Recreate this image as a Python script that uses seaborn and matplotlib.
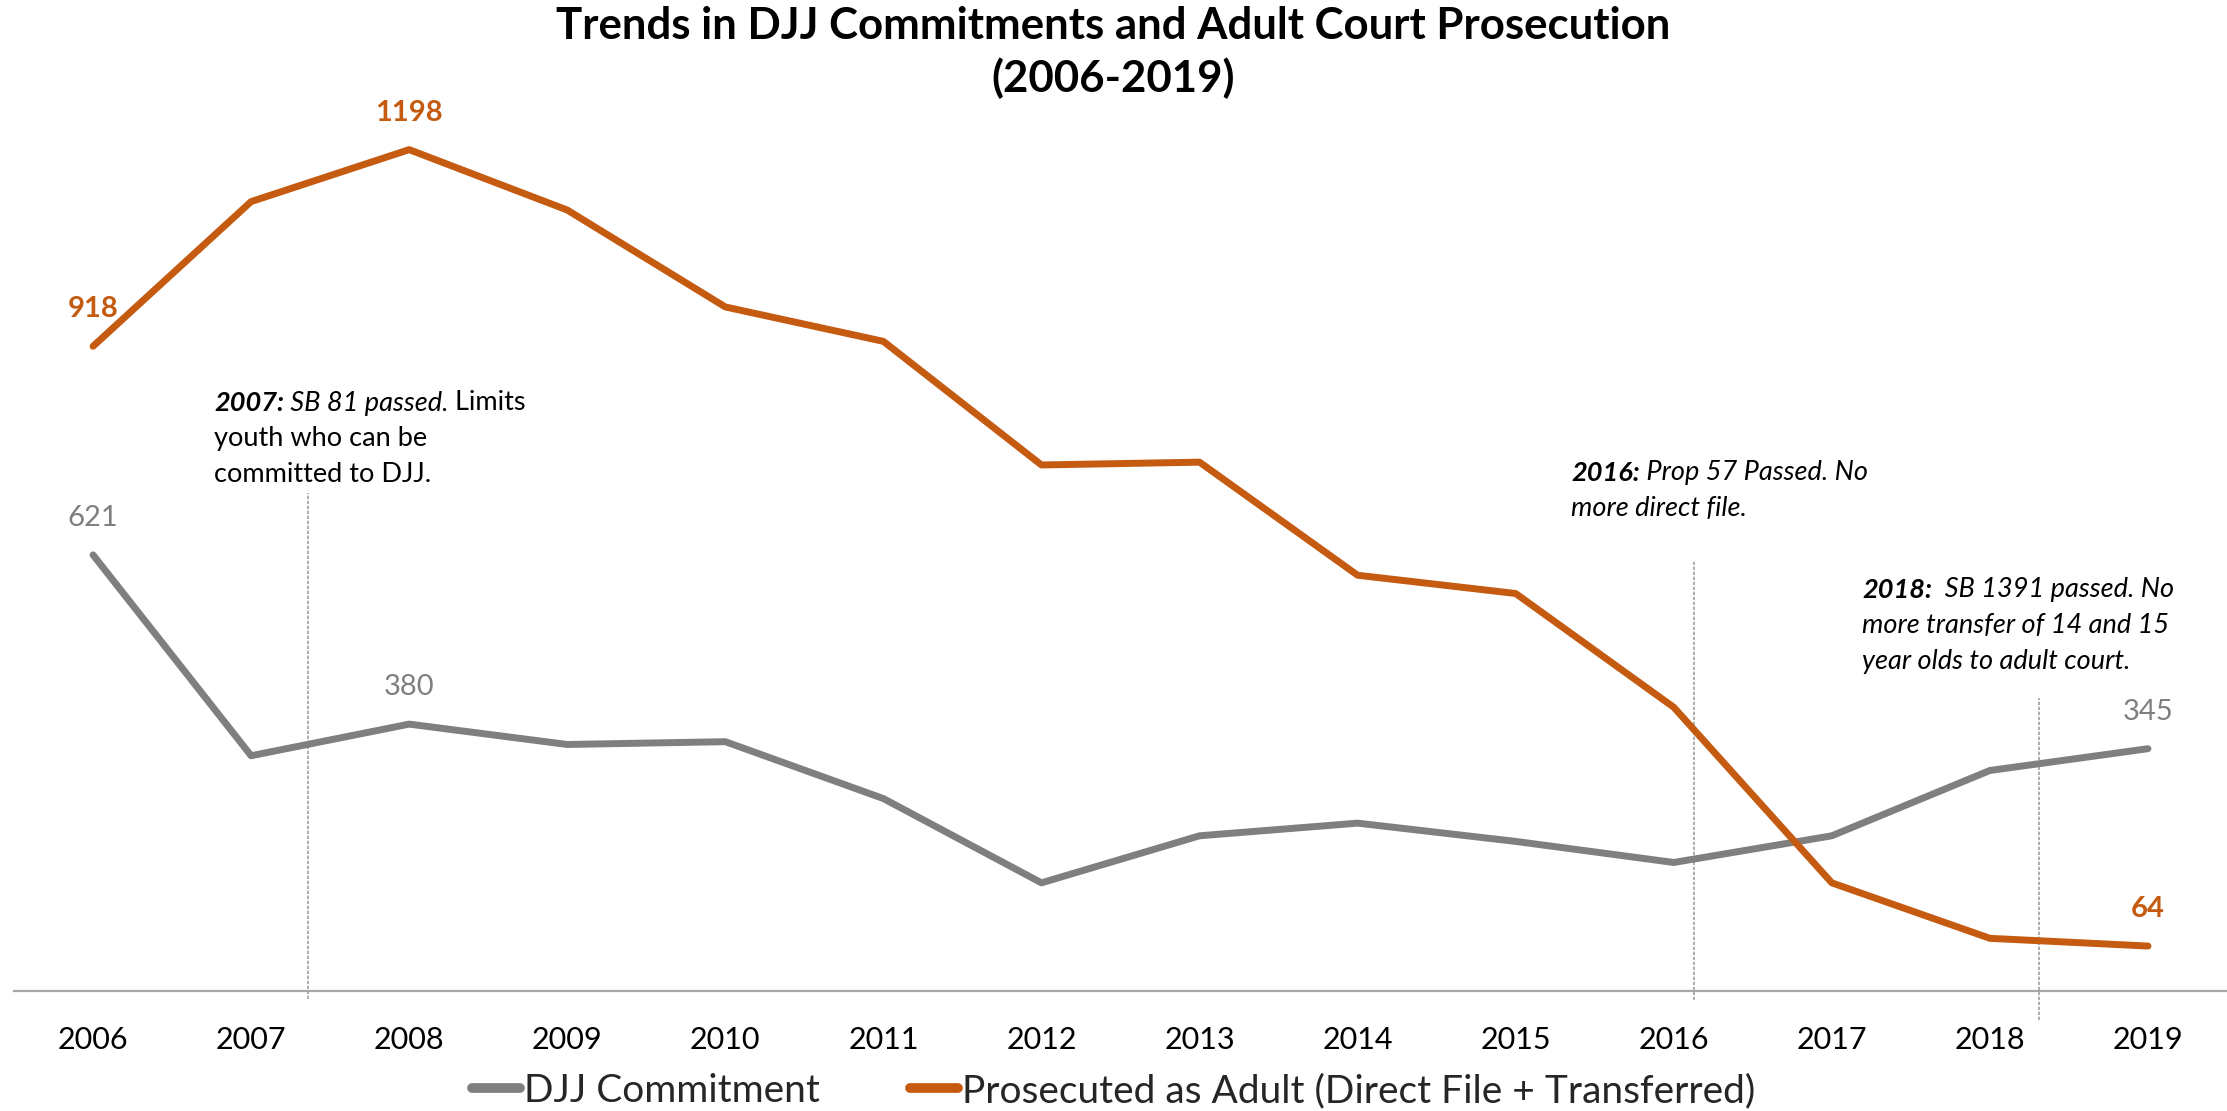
import matplotlib
matplotlib.use("Agg")
import matplotlib.pyplot as plt
import seaborn as sns
import pandas as pd
from matplotlib.lines import Line2D

# ---------------- data ----------------
years = [2006, 2007, 2008, 2009, 2010, 2011, 2012, 2013, 2014, 2015, 2016, 2017, 2018, 2019]
djj_commitment = [621, 335, 380, 351, 355, 274, 154, 221, 239, 213, 183, 221, 314, 345]
prosecuted_adult = [918, 1124, 1198, 1112, 974, 925, 749, 753, 592, 566, 404, 154, 75, 64]
series_names = ["DJJ Commitment", "Prosecuted as Adult (Direct File + Transferred)"]
labeled_years = [2006, 2008, 2019]
title_text = "Trends in DJJ Commitments and Adult Court Prosecution\n(2006-2019)"

# ---------------- styling ----------------
W, H = 2227, 1111
GREY = "#7F7F7F"
ORANGE = "#C55A11"
FONT = "Lato"

sns.set_theme(style="white")
plt.rcParams["font.family"] = [FONT, "DejaVu Sans"]

df = pd.DataFrame({
    "year": years * 2,
    "value": djj_commitment + prosecuted_adult,
    "series": [series_names[0]] * len(years) + [series_names[1]] * len(years),
})

fig = plt.figure(figsize=(W / 100, H / 100), dpi=100)
ax = fig.add_axes([14 / W, (H - 991) / H, 1 - 14 / W, 913 / H])

sns.lineplot(data=df, x="year", y="value", hue="series",
             palette={series_names[0]: GREY, series_names[1]: ORANGE},
             linewidth=5, ax=ax, legend=False, solid_capstyle="round")

ax.set_xlim(years[0] - 0.5, years[-1] + 0.5)
ax.set_ylim(0, 1300)
ax.set_xticks(years)
ax.set_xticklabels([str(y) for y in years], fontsize=22, color="black")
ax.set_yticks([])
ax.set_xlabel("")
ax.set_ylabel("")
ax.tick_params(axis="x", length=0, pad=25)
for s in ["top", "right", "left"]:
    ax.spines[s].set_visible(False)
ax.spines["bottom"].set_color("#A6A6A6")
ax.spines["bottom"].set_linewidth(1.6)

# data labels
for y, v in zip(years, djj_commitment):
    if y in labeled_years:
        ax.annotate(str(v), (y, v), xytext=(0, 26.5), textcoords="offset points",
                    ha="center", va="center", fontsize=21, color=GREY)
for y, v in zip(years, prosecuted_adult):
    if y in labeled_years:
        ax.annotate(str(v), (y, v), xytext=(0, 26.5), textcoords="offset points",
                    ha="center", va="center", fontsize=21, color=ORANGE, fontweight="bold")

# annotation reference lines
for xv, top, bot in [(2007.36, 709, -11), (2016.13, 614, -13), (2018.31, 417, -41)]:
    ax.plot([xv, xv], [bot, top], color="#A0A0A0", lw=1.2, ls=(0, (2, 1)), clip_on=False, zorder=1)

# title
fig.text(0.5, 1 - 6 / H, title_text, ha="center", va="top", fontsize=31.5,
         fontweight="bold", linespacing=1.32, color="black")

# rich text annotations
fig.canvas.draw()
renderer = fig.canvas.get_renderer()
ANN_SIZE = 19.5


def draw_runs(x_px, y_px, runs):
    x = x_px
    for s, style, weight in runs:
        t = fig.text(x / W, 1 - y_px / H, s, fontsize=ANN_SIZE, style=style,
                     weight=weight, ha="left", va="center", color="black")
        bb = t.get_window_extent(renderer)
        x = bb.x1


ann_2007 = [
    [("2007:", "italic", "bold"), (" SB 81 passed.", "italic", "normal"), (" Limits", "normal", "normal")],
    [("youth who can be", "normal", "normal")],
    [("committed to DJJ.", "normal", "normal")],
]
ann_2016 = [
    [("2016:", "italic", "bold"), (" Prop 57 Passed. No", "italic", "normal")],
    [("more direct file.", "italic", "normal")],
]
ann_2018 = [
    [("2018:", "italic", "bold"), ("  SB 1391 passed. No", "italic", "normal")],
    [("more transfer of 14 and 15", "italic", "normal")],
    [("year olds to adult court.", "italic", "normal")],
]
for (x0, y0, lines) in [(214, 403, ann_2007), (1571, 473, ann_2016), (1862, 590, ann_2018)]:
    for i, runs in enumerate(lines):
        draw_runs(x0, y0 + i * 35.5, runs)

# legend
handles = [Line2D([0], [0], color=GREY, lw=7, solid_capstyle="round"),
           Line2D([0], [0], color=ORANGE, lw=7, solid_capstyle="round")]
fig.legend(handles, series_names, loc="center", bbox_to_anchor=(0.5, 1 - 1091 / H),
           ncol=2, frameon=False, fontsize=28, handlelength=1.25, handletextpad=0.1,
           columnspacing=2.3)

fig.savefig("out.png", dpi=100)
